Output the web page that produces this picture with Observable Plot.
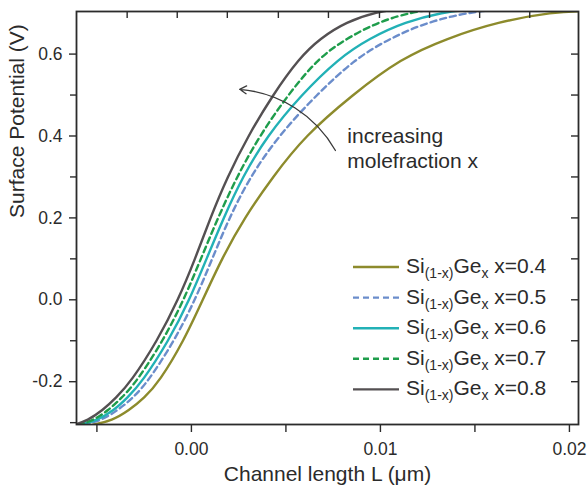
<!DOCTYPE html>
<html><head><meta charset="utf-8">
<script src="https://cdn.jsdelivr.net/npm/d3@7"></script>
<script src="https://cdn.jsdelivr.net/npm/@observablehq/plot@0.6"></script>
<style>
body{margin:0;background:#fff;}
#chart svg{display:block;}
</style>
</head><body><div id="chart"></div>
<script>
// ---- data ----
const seriesNames = ["x=0.4", "x=0.5", "x=0.6", "x=0.7", "x=0.8"];
const yLevels = [-0.305, -0.295, -0.27, -0.24, -0.2, -0.1, 0, 0.1, 0.2, 0.3, 0.4, 0.5, 0.59, 0.638, 0.679, 0.703];
const x04 = [-0.0052, -0.0042, -0.0033, -0.0025, -0.0017, -0.0004, 0.0006, 0.0016, 0.0028, 0.0043, 0.0060, 0.0085, 0.0111, 0.0135, 0.0162, 0.0192];
const x05 = [-0.0057, -0.0048, -0.0039, -0.0031, -0.0023, -0.0009, 0.0002, 0.0011, 0.0020, 0.0031, 0.0046, 0.0066, 0.0087, 0.0105, 0.0125, 0.0148];
const x06 = [-0.0059, -0.0050, -0.0041, -0.0034, -0.0026, -0.0012, -0.0001, 0.0008, 0.0017, 0.0027, 0.0040, 0.0058, 0.0078, 0.0094, 0.0113, 0.0134];
const x07 = [-0.0060, -0.0052, -0.0044, -0.0037, -0.0029, -0.0015, -0.0004, 0.0005, 0.0014, 0.0024, 0.0036, 0.0051, 0.0067, 0.0082, 0.0099, 0.0117];
const x08 = [-0.0062, -0.0055, -0.0047, -0.0040, -0.0032, -0.0018, -0.0007, 0.0002, 0.0010, 0.0019, 0.0030, 0.0043, 0.0057, 0.0068, 0.0082, 0.0098];
// last point of each curve (where it leaves the top of the frame)
const endX = [0.0207, 0.0160, 0.0145, 0.0128, 0.0112];
const endY = [0.705, 0.707, 0.708, 0.709, 0.712];
const seriesX = [x04, x05, x06, x07, x08];
const seriesColors = ["#8d8b2c", "#6b8dcb", "#22b1b6", "#1f9d4c", "#545052"];
const seriesDash = [null, "6,4", null, "6,4", null];

const xDomain = [-0.00608, 0.02048];
const yDomain = [-0.3045, 0.704];
const xTicksMajor = [0, 0.01, 0.02];
const xTicksMinor = [-0.005, 0.005, 0.015];
const xTicksTop = [-0.0034, -0.00075, 0.0019, 0.0046, 0.00725, 0.00995, 0.0126, 0.01525, 0.0179];
const yTicksMajor = [-0.2, 0, 0.2, 0.4, 0.6];
const yTicksMinor = [-0.3, -0.1, 0.1, 0.3, 0.5];
const yTicksRight = [-0.2, -0.1, 0, 0.1, 0.2, 0.3, 0.4, 0.5, 0.6];

const xTitle = "Channel length L (μm)";
const yTitle = "Surface Potential (V)";
const noteText = "increasing\nmolefraction x";
const noteAt = [{x: 0.00825, y: 0.371}];
const arrowAt = [{x1: 0.00762, y1: 0.3646, x2: 0.00255, y2: 0.514}];

// ---- build ----
const W = 587, H = 485, mT = 11, mB = 61, mL = 76, mR = 9;
const frameW = W - mL - mR, frameH = H - mT - mB, inTick = 7;
const rows = i => seriesX[i].map((x, j) => ({x, y: yLevels[j]}))
  .concat([{x: endX[i], y: endY[i]}]);
const font = "Arial, 'Liberation Sans', Helvetica, sans-serif";
const ink = "#2b2b2b";

const lineMarks = seriesNames.map((n, i) => Plot.line(rows(i), {
  x: "x", y: "y", stroke: seriesColors[i], strokeWidth: 2.4,
  strokeDasharray: seriesDash[i] || undefined, curve: "basis", clip: true
}));

const plot = Plot.plot({
  width: W, height: H,
  marginTop: mT, marginBottom: mB, marginLeft: mL, marginRight: mR,
  style: {fontFamily: font, background: "#fff", color: ink},
  x: {domain: xDomain, label: null},
  y: {domain: yDomain, label: null},
  marks: [
    ...lineMarks,
    Plot.arrow(arrowAt, {x1: "x1", y1: "y1", x2: "x2", y2: "y2", bend: -28, headLength: 9, stroke: "#3a3a3a", strokeWidth: 1.3}),
    Plot.text(noteAt, {x: "x", y: "y", text: () => noteText, textAnchor: "start", lineAnchor: "middle", lineHeight: 1.19, fontSize: 21, fill: ink}),
    Plot.axisX(xTicksMajor, {anchor: "bottom", tickSize: 8, tickPadding: 10, fontSize: 17.5, tickFormat: d => d.toFixed(2), label: null, strokeWidth: 1.4}),
    Plot.axisX(xTicksMinor, {anchor: "bottom", tickSize: 8, fill: "none", label: null, strokeWidth: 1.4}),
    Plot.tickX(xTicksTop, {x: d => d, insetBottom: frameH - inTick, stroke: ink, strokeWidth: 1.4}),
    Plot.axisY(yTicksMajor, {anchor: "left", tickSize: 7, tickPadding: 7, fontSize: 17.5, tickFormat: d => d.toFixed(1), label: null, strokeWidth: 1.4}),
    Plot.axisY(yTicksMinor, {anchor: "left", tickSize: 6, fill: "none", label: null, strokeWidth: 1.4}),
    Plot.tickY(yTicksRight, {y: d => d, insetLeft: frameW - inTick, stroke: ink, strokeWidth: 1.4}),
    Plot.frame({stroke: ink, strokeWidth: 1.8}),
    Plot.text([xTitle], {frameAnchor: "bottom", dy: 50, fontSize: 21, fill: ink, lineAnchor: "middle"}),
    Plot.text([yTitle], {frameAnchor: "left", dx: -59, rotate: -90, fontSize: 21, fill: ink, lineAnchor: "middle"})
  ]
});
document.getElementById("chart").appendChild(plot);

// ---- legend (inside the frame, lower right) ----
const svg = d3.select(plot);
const lg = svg.append("g").attr("font-family", font).attr("fill", ink).attr("text-anchor", "start");
seriesNames.forEach((name, i) => {
  const yL = 267 + i * 30.6;
  lg.append("line").attr("x1", 353).attr("x2", 399).attr("y1", yL).attr("y2", yL)
    .attr("stroke", seriesColors[i]).attr("stroke-width", 2.4)
    .attr("stroke-dasharray", seriesDash[i]);
  const t = lg.append("text").attr("x", 406).attr("y", yL + 6).attr("font-size", 21);
  t.append("tspan").text("Si");
  t.append("tspan").attr("font-size", 14).attr("dy", 5).text("(1-x)");
  t.append("tspan").attr("dy", -5).text("Ge");
  t.append("tspan").attr("font-size", 14).attr("dy", 5).text("x");
  t.append("tspan").attr("dy", -5).text(" " + name);
});
</script></body></html>
